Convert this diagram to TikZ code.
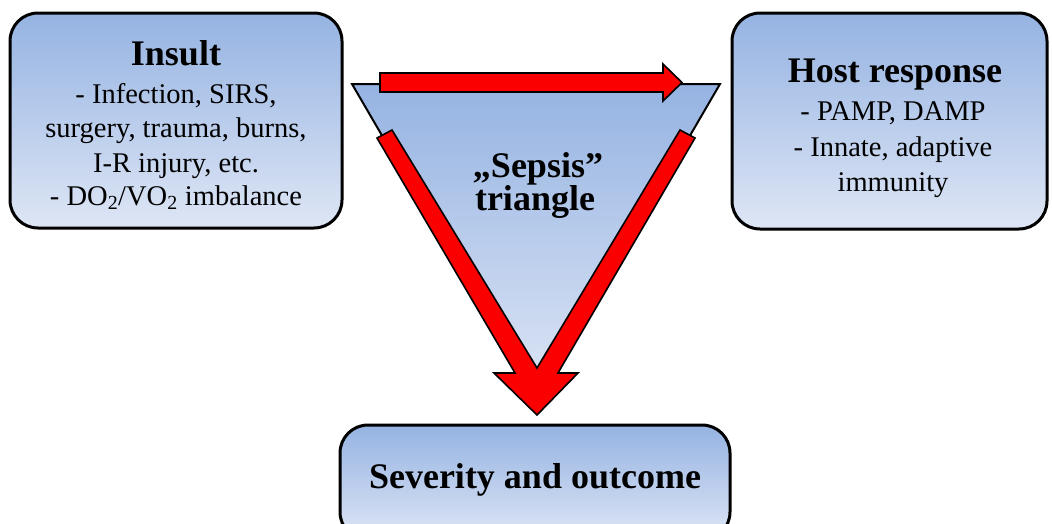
\documentclass[tikz,border=0pt]{standalone}
\usepackage{fontspec}
\setmainfont{Liberation Serif}
\definecolor{boxtop}{RGB}{149,179,226}
\definecolor{boxbot}{RGB}{222,230,245}
\definecolor{arrred}{RGB}{250,0,0}
\begin{document}
\begin{tikzpicture}[x=1pt,y=-1pt,
  infobox/.style={draw=black, line width=3pt, rounded corners=28pt,
    top color=boxtop, bottom color=boxbot, inner sep=0pt},
  titletext/.style={anchor=base, inner sep=0pt, font=\fontsize{36}{40}\selectfont\bfseries},
  bodytext/.style={anchor=base, inner sep=0pt, font=\fontsize{28.5}{34}\selectfont},
  redarrow/.style={fill=arrred, draw=black, line width=1.6pt, line join=miter}
]
\clip (0,0) rectangle (1052,523);
\fill[white] (0,0) rectangle (1052,523);

% boxes
\node[infobox, minimum width=332pt, minimum height=215pt] (insult) at (176,120.5) {};
\node[infobox, minimum width=315pt, minimum height=216pt] (host) at (889.5,121) {};
\node[infobox, minimum width=390pt, minimum height=115pt] (sev) at (535,482.5) {};

% triangle
\shade[top color=boxtop, bottom color=boxbot, draw=black, line width=2pt, line join=miter]
  (352,84) -- (720,84) -- (536,400) -- cycle;

% arrows
\path[redarrow] (380,73) -- (663,73) -- (663,64) -- (682,82.5) -- (663,101) -- (663,92) -- (380,92) -- cycle;
\path[redarrow] (377,138) -- (392,130) -- (537,368) -- (680,130) -- (695,138) -- (558,373)
  -- (578,373) -- (537,415) -- (494,373) -- (515,373) -- cycle;

% texts
\node[titletext] (insultT) at (176,65) {Insult};
\node[bodytext] (insult1) at (176,103) {- Infection, SIRS,};
\node[bodytext] (insult2) at (176,137) {surgery, trauma, burns,};
\node[bodytext] (insult3) at (176,172) {I-R injury, etc.};
\node[bodytext] (insult4) at (176,205) {- DO\textsubscript{2}/VO\textsubscript{2} imbalance};

\node[titletext] (hostT) at (895,82) {Host response};
\node[bodytext] (host1) at (893,120) {- PAMP, DAMP};
\node[bodytext] (host2) at (893,156) {- Innate, adaptive};
\node[bodytext] (host3) at (893,191) {immunity};

\node[titletext] (sepT1) at (538,177) {„Sepsis”};
\node[titletext] (sepT2) at (535,210) {triangle};

\node[titletext] (sevT) at (535,488) {Severity and outcome};
\end{tikzpicture}
\end{document}
